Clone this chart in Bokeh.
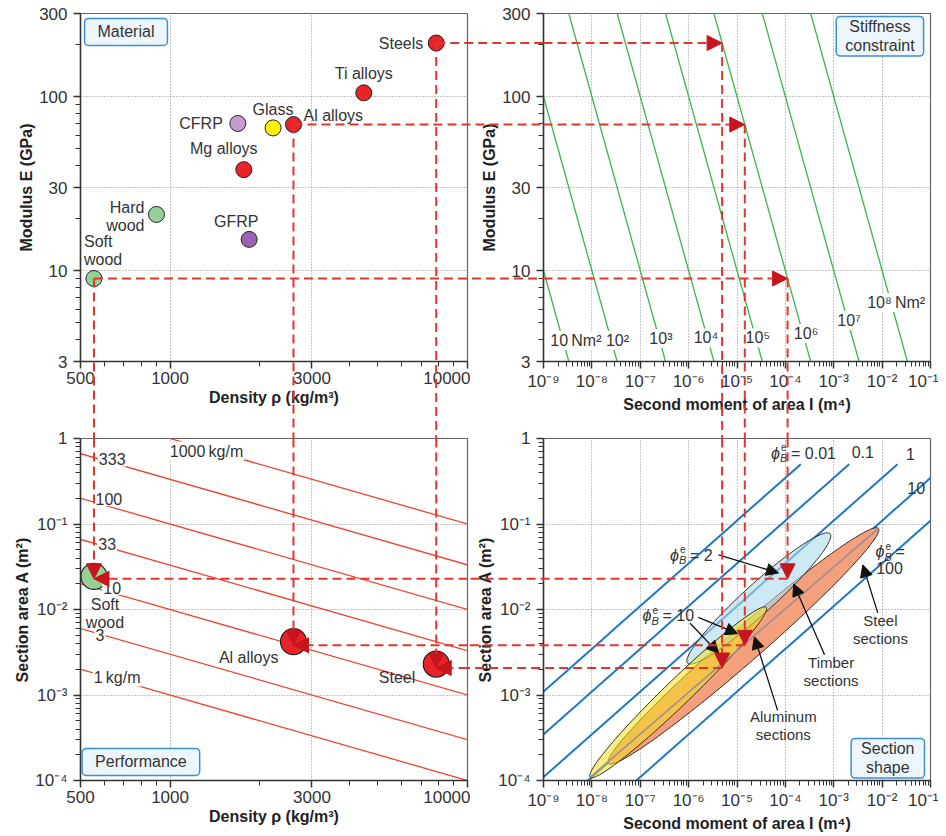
import numpy as np
from bokeh.plotting import figure
from bokeh.models import (Range1d, LogScale, FixedTicker, Label, Arrow, NormalHead,
                          ColumnDataSource, CustomJSTickFormatter)
from bokeh.layouts import column, row
from bokeh.embed import file_html
from bokeh.resources import INLINE

# ------------------------------------------------------------------ data
mat_names = ["Steels", "Ti alloys", "Al alloys", "Glass", "CFRP", "Mg alloys", "Hard wood", "GFRP", "Soft wood"]
mat_density = [7850, 4480, 2600, 2220, 1690, 1770, 900, 1845, 555]          # kg/m3
mat_modulus = [203, 105, 69, 66, 70, 38, 21, 15.1, 9.0]                    # GPa

sel_names = ["Soft wood", "Al alloys", "Steel"]
sel_density = [555, 2600, 7850]
sel_modulus = [9.0, 69, 203]
sel_area = [0.0244, 0.0042, 0.0023]                                        # m2
stiffness_target = 1e6                                                     # N m2

mass_per_length = [1, 3, 10, 33, 100, 333, 1000]                           # kg/m
stiffness_levels = [1e1, 1e2, 1e3, 1e4, 1e5, 1e6, 1e7, 1e8]               # N m2
phi_levels = [0.01, 0.1, 1, 10, 100]

section_names = ["Steel sections", "Timber sections", "Aluminum sections"]
section_I_low = [2.2e-8, 9.5e-7, 9.2e-9]
section_A_low = [1.58e-4, 2.35e-3, 1.09e-4]
section_I_high = [8.4e-3, 8.4e-4, 4.0e-5]
section_A_high = [0.089, 0.077, 0.0106]

density_ticks = [500, 1000, 3000, 10000]
density_minor = [600, 700, 800, 900, 2000, 4000, 5000, 6000, 7000, 8000, 9000]
modulus_ticks = [3, 10, 30, 100, 300]
modulus_minor = [4, 5, 6, 7, 8, 9, 20, 40, 50, 60, 70, 80, 90, 200]
I_ticks = [1e-9, 1e-8, 1e-7, 1e-6, 1e-5, 1e-4, 1e-3, 1e-2, 1e-1]
I_minor = [k * 10.0 ** e for e in range(-9, -1) for k in range(2, 10)]
A_ticks = [1e-4, 1e-3, 1e-2, 1e-1, 1]
A_minor = [k * 10.0 ** e for e in range(-4, 0) for k in range(2, 10)]

# ------------------------------------------------------------------ styles
FONT = "Liberation Sans"
TXT = "#333333"
mat_colors = ["#e8232a", "#e8232a", "#e8232a", "#fff200", "#c49cd2", "#e8232a", "#95d095", "#9c62b6", "#95d095"]
mat_label_text = ["Steels", "Ti alloys", "Al alloys", "Glass", "CFRP", "Mg alloys", "Hard\nwood", "GFRP", "Soft\nwood"]
# (align, x_offset, y_offset) in px relative to each point
mat_label_place = [("right", -13, 0), ("center", 0, 19), ("left", 10, 9), ("center", 0, 18),
                   ("right", -15, 0), ("center", -20, 21), ("right", -12, -2), ("center", -13, 18),
                   ("left", -10, 28)]
sel_colors = ["#95d095", "#e8232a", "#e8232a"]
sel_label_text = ["Soft\nwood", "Al alloys", "Steel"]
sel_label_place = [("center", 11, -37), ("right", -15, -16), ("right", -21, -13)]

SUP = {"-": "\u207b", "0": "\u2070", "1": "\u00b9", "2": "\u00b2", "3": "\u00b3", "4": "\u2074",
       "5": "\u2075", "6": "\u2076", "7": "\u2077", "8": "\u2078", "9": "\u2079"}


def pow10(v):
    e = int(round(np.log10(v)))
    return "10" + "".join(SUP[c] for c in str(e))


# layout (canvas pixels; the page itself has no margin, so 8px are added here)
LW, RW = 470, 468
TH, BH = 420, 414
FW, FH = 387, 348
TL_B = (80, 3, 13, 59)
TR_B = (73, 8, 13, 59)
BL_B = (80, 3, 18, 48)
BR_B = (73, 8, 18, 48)

plain_fmt = "return tick.toString();"
pow_fmt = """
const sup = {"-":"\u207b","0":"\u2070","1":"\u00b9","2":"\u00b2","3":"\u00b3","4":"\u2074","5":"\u2075","6":"\u2076","7":"\u2077","8":"\u2078","9":"\u2079"};
const e = Math.round(Math.log10(tick));
if (e === 0) return "1";
return "10" + String(e).split("").map(c => sup[c]).join("");
"""


def panel(width, height, xr, yr, b, xt, xm, yt, ym, xlab, ylab, xf, yf):
    p = figure(width=width, height=height, x_axis_type="log", y_axis_type="log",
               x_range=Range1d(*xr), y_range=Range1d(*yr), toolbar_location=None,
               output_backend="svg", min_border_left=b[0], min_border_right=b[1],
               min_border_top=b[2], min_border_bottom=b[3])
    p.xaxis.ticker = FixedTicker(ticks=xt, minor_ticks=xm)
    p.yaxis.ticker = FixedTicker(ticks=yt, minor_ticks=ym)
    p.xaxis.formatter = CustomJSTickFormatter(code=xf)
    p.yaxis.formatter = CustomJSTickFormatter(code=yf)
    p.xaxis.axis_label = xlab
    p.yaxis.axis_label = ylab
    for ax in (p.xaxis[0], p.yaxis[0]):
        ax.axis_line_color = "#333333"
        ax.axis_line_width = 1.5
        ax.major_tick_line_color = "#333333"
        ax.minor_tick_line_color = "#333333"
        ax.major_tick_line_width = 1.5
        ax.major_tick_out = 7
        ax.major_tick_in = 0
        ax.minor_tick_out = 5
        ax.minor_tick_in = 0
        ax.major_label_text_font = FONT
        ax.major_label_text_font_size = "17px"
        ax.major_label_text_color = TXT
        ax.axis_label_text_font = FONT
        ax.axis_label_text_font_size = "16px"
        ax.axis_label_text_font_style = "bold"
        ax.axis_label_text_color = "#222222"
    p.xaxis.major_label_standoff = 3
    p.xaxis.axis_label_standoff = 2
    p.yaxis.major_label_standoff = 6
    p.yaxis.axis_label_standoff = 1
    p.grid.grid_line_color = "#8a8a8a"
    p.grid.grid_line_dash = "1 2"
    p.grid.grid_line_width = 1
    p.outline_line_color = "#666666"
    p.outline_line_width = 1.2
    p.background_fill_color = "white"
    p.border_fill_color = "white"
    return p


def text(p, x, y, t, size=16, align="center", xo=0, yo=0, bg=None, **kw):
    p.add_layout(Label(x=x, y=y, text=t, x_offset=xo, y_offset=yo, text_font=FONT,
                       text_font_size=f"{size}px", text_color=TXT, text_align=align,
                       text_baseline="middle", text_line_height=1.1,
                       background_fill_color=bg, **kw))


def box(p, x, y, t, pad):
    p.add_layout(Label(x=x, y=y, text=t, text_font=FONT, text_font_size="16px", text_color=TXT,
                       text_align="center", text_baseline="middle", text_line_height=1.1,
                       background_fill_color="#eef6fd", border_line_color="#3b8ed8",
                       border_line_width=1.5, border_radius=4, padding=pad))


def phi(p, x, y, rest):
    kw = dict(text_font=FONT, text_color=TXT, text_baseline="middle", text_align="left")
    p.add_layout(Label(x=x, y=y, text="\u03d5", text_font_size="16px", text_font_style="italic", **kw))
    p.add_layout(Label(x=x, y=y, text="e", x_offset=10, y_offset=6, text_font_size="10px", **kw))
    p.add_layout(Label(x=x, y=y, text="B", x_offset=9, y_offset=-5, text_font_size="11px",
                       text_font_style="italic", **kw))
    if rest:
        p.add_layout(Label(x=x, y=y, text=rest, x_offset=20, text_font_size="16px", **kw))


# ------------------------------------------------------------------ top-left: material
tl = panel(LW, TH, (500, 10000), (3, 300), TL_B, density_ticks, density_minor, modulus_ticks,
           modulus_minor, "Density \u03c1 (kg/m\u00b3)", "Modulus E (GPa)", plain_fmt, plain_fmt)
src = ColumnDataSource(dict(rho=mat_density, E=mat_modulus, c=mat_colors))
tl.scatter("rho", "E", source=src, size=16, fill_color="c", line_color="#222222", line_width=1)
for rho, E, t, (al, xo, yo) in zip(mat_density, mat_modulus, mat_label_text, mat_label_place):
    text(tl, rho, E, t, align=al, xo=xo, yo=yo)
box(tl, 711, 235, "Material", (13, 5))

# ------------------------------------------------------------------ top-right: stiffness constraint
tr = panel(RW, TH, (1e-9, 1e-1), (3, 300), TR_B, I_ticks, I_minor, modulus_ticks, modulus_minor,
           "Second moment of area I (m\u2074)", "Modulus E (GPa)", pow_fmt, plain_fmt)
I_span = np.array([1e-11, 1.0])
for S in stiffness_levels:
    tr.line(I_span, S / (I_span * 1e9), line_color="#3cb44b", line_width=1.3)
S_label_pos = [(-8.33, 3.96), (-7.47, 3.96), (-6.573, 4.07), (-5.64, 4.1), (-4.57, 4.1),
               (-3.573, 4.35), (-2.683, 5.16), (-1.71, 6.55)]
for i, (S, (lx, ly)) in enumerate(zip(stiffness_levels, S_label_pos)):
    t = ("10" if S == 10 else pow10(S))
    if i in (0, len(stiffness_levels) - 1):
        t += "\u2009Nm\u00b2"
    text(tr, 10 ** lx, ly, t, bg="white", padding=1)
box(tr, 9.0e-3, 222, "Stiffness\nconstraint", (9, 2))

# ------------------------------------------------------------------ bottom-left: performance
bl = panel(LW, BH, (500, 10000), (1e-4, 1), BL_B, density_ticks, density_minor, A_ticks, A_minor,
           "Density \u03c1 (kg/m\u00b3)", "Section area A (m\u00b2)", plain_fmt, pow_fmt)
rho_span = np.array([300.0, 20000.0])
for m in mass_per_length:
    bl.line(rho_span, m / rho_span, line_color="#f0412e", line_width=1.3)
m_label_pos = [(664, 1.62e-3), (581, 5.02e-3), (639, 0.018), (615, 0.0578), (623, 0.195),
               (639, 0.569), (1326, 0.714)]
for m, (lx, ly) in zip(mass_per_length, m_label_pos):
    t = f"{m}\u2009kg/m" if m in (1, 1000) else str(m)
    text(bl, lx, ly, t, bg="white", padding=1)
bl.scatter(sel_density, sel_area, size=26, fill_color=sel_colors, line_color="#222222", line_width=1.2)
for rho, A, t, (al, xo, yo) in zip(sel_density, sel_area, sel_label_text, sel_label_place):
    text(bl, rho, A, t, align=al, xo=xo, yo=yo)
box(bl, 798, 1.65e-4, "Performance", (13, 5))

# ------------------------------------------------------------------ bottom-right: section shape
br = panel(RW, BH, (1e-9, 1e-1), (1e-4, 1), BR_B, I_ticks, I_minor, A_ticks, A_minor,
           "Second moment of area I (m\u2074)", "Section area A (m\u00b2)", pow_fmt, pow_fmt)
for ph in phi_levels:
    I_end = min(1.0, 0.25 * ph / 12.0)
    Ivals = np.logspace(-10, np.log10(I_end), 50)
    br.line(Ivals, np.sqrt(12 * Ivals / ph), line_color="#1f78c4", line_width=2)

PPX, PPY = FW / 8.0, FH / 4.0


def ellipse(I1, A1, I2, A2, hw, n=160):
    x1, y1 = np.log10(I1) * PPX, np.log10(A1) * PPY
    x2, y2 = np.log10(I2) * PPX, np.log10(A2) * PPY
    cx, cy = (x1 + x2) / 2, (y1 + y2) / 2
    dx, dy = (x2 - x1) / 2, (y2 - y1) / 2
    L = np.hypot(dx, dy)
    ux, uy = dx / L, dy / L
    t = np.linspace(0, 2 * np.pi, n)
    px = cx + L * np.cos(t) * ux - hw * np.sin(t) * uy
    py = cy + L * np.cos(t) * uy + hw * np.sin(t) * ux
    return 10 ** (px / PPX), 10 ** (py / PPY)


sec_half_width = [17, 15, 13]
sec_fill = ["#f4a07c", "#acdaeb", "#f2e21c"]
sec_alpha = [1.0, 0.6, 0.55]
for i in range(3):
    ex, ey = ellipse(section_I_low[i], section_A_low[i], section_I_high[i], section_A_high[i],
                     sec_half_width[i])
    br.patch(ex, ey, fill_color=sec_fill[i], fill_alpha=sec_alpha[i], line_color="#3a2a26",
             line_width=1)
br.line([section_I_low[2], section_I_high[0]], [section_A_low[2], section_A_high[0]],
        line_color="#9a8c9c", line_width=1.5)

phi(br, 10 ** -4.297, 10 ** -0.172, "= 0.01")
text(br, 10 ** -2.40, 10 ** -0.157, "0.1")
text(br, 10 ** -1.415, 10 ** -0.176, "1")
text(br, 10 ** -1.297, 10 ** -0.578, "10")
phi(br, 10 ** -2.139, 10 ** -1.325, "=")
text(br, 10 ** -2.124, 10 ** -1.517, "100", align="left")
phi(br, 10 ** -6.387, 10 ** -1.364, "= 2")
phi(br, 10 ** -6.952, 10 ** -2.072, "= 10")

sec_label_pos = [(-2.035, -2.233), (-3.055, -2.724), (-4.042, -3.356)]
for name, (lx, ly) in zip(section_names, sec_label_pos):
    text(br, 10 ** lx, 10 ** ly, name.replace(" ", "\n"), size=15)

br_arrows = [(-5.38, -1.362, -4.14, -1.573), (-5.80, -2.092, -4.986, -2.283),
             (-5.97, -2.16, -5.38, -2.51), (-3.19, -2.53, -3.83, -1.70),
             (-2.09, -2.04, -2.40, -1.478), (-4.16, -3.18, -4.64, -2.32)]
for x0, y0, x1, y1 in br_arrows:
    br.add_layout(Arrow(x_start=10 ** x0, y_start=10 ** y0, x_end=10 ** x1, y_end=10 ** y1,
                        line_color="#111111", line_width=1.3,
                        end=NormalHead(size=12, fill_color="#111111", line_color="#111111")))
box(br, 1.31e-2, 1.82e-4, "Section\nshape", (10, 2))

# ------------------------------------------------------------------ overlay with the connectors
OW, OH = LW + RW, TH + BH


def lfun(v0, p0, v1, p1):
    l0, l1 = np.log10(v0), np.log10(v1)
    k = (l1 - l0) / (p1 - p0)
    return lambda q: 10 ** (l0 + k * (q - p0))


f_rho = lfun(500, TL_B[0], 10000, TL_B[0] + FW)
f_I = lfun(1e-9, LW + TR_B[0], 1e-1, LW + TR_B[0] + FW)
f_E = lfun(300, TL_B[2], 3, TL_B[2] + FH)
f_A = lfun(1, TH + BL_B[2], 1e-4, TH + BL_B[2] + FH)

ov = figure(width=OW, height=OH, x_axis_type="log", y_axis_type="log",
            x_range=Range1d(f_rho(0), f_rho(OW)), y_range=Range1d(f_E(OH), f_E(0)),
            x_axis_location=None, y_axis_location=None, toolbar_location=None,
            output_backend="svg", min_border=0, background_fill_color=None,
            border_fill_color=None, outline_line_color=None)
ov.extra_x_ranges = {"I": Range1d(f_I(0), f_I(OW))}
ov.extra_x_scales = {"I": LogScale()}
ov.extra_y_ranges = {"A": Range1d(f_A(OH), f_A(0))}
ov.extra_y_scales = {"A": LogScale()}
ov.grid.visible = False
ov.margin = (-OH, 0, 0, 0)

RED_LINE, RED_HEAD = "#e2352e", "#c8141e"


def conn(x0, y0, x1, y1, xr="default", yr="default", head=False):
    ov.add_layout(Arrow(x_start=x0, y_start=y0, x_end=x1, y_end=y1, x_range_name=xr,
                        y_range_name=yr, line_color=RED_LINE, line_width=2, line_dash="9 5",
                        start=None,
                        end=NormalHead(size=15, fill_color=RED_HEAD, line_color=RED_HEAD,
                                       line_width=1) if head else None))


rho_gap = f_rho(LW + TR_B[0])
I_gap = f_I(TL_B[0] + FW)
E_gap = f_E(TH + BL_B[2])
for rho, E, A in zip(sel_density, sel_modulus, sel_area):
    I = stiffness_target / (E * 1e9)
    conn(rho, E, rho_gap, E)
    conn(1e-9, E, I, E, xr="I", head=True)
    conn(rho, E, rho, E_gap)
    conn(rho, 1, rho, A, yr="A", head=True)
    conn(I, E, I, E_gap, xr="I")
    conn(I, 1, I, A, xr="I", yr="A", head=True)
    conn(I, A, I_gap, A, xr="I", yr="A")
    conn(10000, A, rho, A, yr="A", head=True)

layout = column(row(tl, tr), row(bl, br), ov)
open("out.html", "w").write(file_html(layout, INLINE))
